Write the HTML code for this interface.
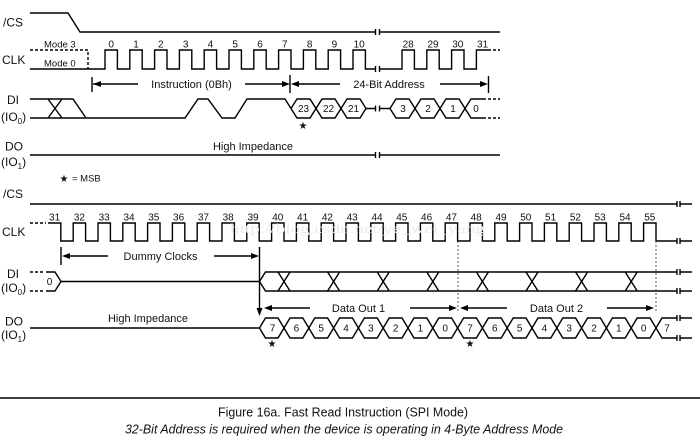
<!DOCTYPE html>
<html>
<head>
<meta charset="utf-8">
<style>
  html,body{margin:0;padding:0;background:#fff;}
  body{width:700px;height:440px;overflow:hidden;}
  svg{display:block;}
  text{font-family:"Liberation Sans",Arial,sans-serif;fill:#111;}
</style>
</head>
<body>
<svg width="700" height="440" viewBox="0 0 700 440" xmlns="http://www.w3.org/2000/svg">
  <g fill="none" stroke="#000" stroke-width="1.4" stroke-linejoin="miter">
    <!-- ===== TOP SECTION ===== -->
    <path d="M30,13 H68 L80,32 H375.5 M379.5,32 H500"/>
    <path d="M375.5,29 V35 M379.5,29 V35"/>
    <path d="M30,50 H88 V69" stroke-dasharray="3,2"/>
    <path d="M30,69 H105 V50 H117.4 V69 H129.8 V50 H142.2 V69 H154.6 V50 H167 V69 H179.4 V50 H191.8 V69 H204.2 V50 H216.6 V69 H229 V50 H241.4 V69 H253.8 V50 H266.2 V69 H278.6 V50 H291 V69 H303.4 V50 H315.8 V69 H328.2 V50 H340.6 V69 H353 V50 H365.4 V69 H375.5"/>
    <path d="M375.5,66 V72 M379.5,66 V72"/>
    <path d="M379.5,69 H402 V50 H414.4 V69 H426.8 V50 H439.2 V69 H451.6 V50 H464 V69 H476.4 V50 H488"/>
    <path d="M488,50 H500" stroke-dasharray="3,2"/>
    <path d="M92,77 V92 M93,84 H138 M245,84 H284 M290,75 V93 M297,84 H340 M440,84 H482 M488.5,76 V93"/>
    <path d="M30,99 H73 L86,118"/>
    <path d="M30,118 H185 L198,99 H208 L222,118 H235 L247,99 H285 L291,108.5"/>
    <path d="M48,99 L62,118 M48,118 L62,99"/>
    <path d="M291,108.5 L297,99 H310 L322,118 H335 L347,99 H360 L366,108.5"/>
    <path d="M291,108.5 L297,118 H310 L322,99 H335 L347,118 H360 L366,108.5"/>
    <path d="M366,108.5 H375.5 M379.5,108.5 H390"/>
    <path d="M375.5,105.5 V111.5 M379.5,105.5 V111.5"/>
    <path d="M390,108.5 L396,99 H409 L421,118 H434 L446,99 H459 L471,118 H483"/>
    <path d="M390,108.5 L396,118 H409 L421,99 H434 L446,118 H459 L471,99 H483"/>
    <path d="M483,99 H500 M483,118 H500" stroke-dasharray="3,2"/>
    <path d="M30,155 H375.5 M379.5,155 H500"/>
    <path d="M375.5,152 V158 M379.5,152 V158"/>

    <!-- ===== BOTTOM SECTION ===== -->
    <path d="M30,204 H677 M680,204 H692"/>
    <path d="M677,201 V207 M680,201 V207"/>
    <path d="M30,223 H46" stroke-dasharray="3,2"/>
    <path d="M48,223 H60.8 V241 H73.2 V223 H85.6 V241 H98 V223 H110.4 V241 H122.8 V223 H135.2 V241 H147.6 V223 H160 V241 H172.4 V223 H184.8 V241 H197.2 V223 H209.6 V241 H222 V223 H234.4 V241 H246.8 V223 H259.2 V241 H271.6 V223 H284 V241 H296.4 V223 H308.8 V241 H321.2 V223 H333.6 V241 H346 V223 H358.4 V241 H370.8 V223 H383.2 V241 H395.6 V223 H408 V241 H420.4 V223 H432.8 V241 H445.2 V223 H457.6 V241 H470 V223 H482.4 V241 H494.8 V223 H507.2 V241 H519.6 V223 H532 V241 H544.4 V223 H556.8 V241 H569.2 V223 H581.6 V241 H594 V223 H606.4 V241 H618.8 V223 H631.2 V241 H643.6 V223 H656 V241 H677"/>
    <path d="M677,238 V244 M680,238 V244 M680,241 H692"/>
    <path d="M61,247 V265 M69,256 H108 M214,256 H252"/>
    <path d="M259.5,247 V309"/>
    <path d="M30,272 H45 M30,291 H45" stroke-dasharray="3,2"/>
    <path d="M46,272 H55 L61,281.5 L55,291 H46"/>
    <path d="M61,281.5 H259.5 L265.5,272 H677 M259.5,281.5 L265.5,291 H677"/>
    <path d="M677,269 V275 M680,269 V275 M677,288 V294 M680,288 V294 M680,272 H692 M680,291 H692"/>
    <path d="M278,272 L290,291 M278,291 L290,272
             M327.6,272 L339.6,291 M327.6,291 L339.6,272
             M377.2,272 L389.2,291 M377.2,291 L389.2,272
             M426.8,272 L438.8,291 M426.8,291 L438.8,272
             M476.4,272 L488.4,291 M476.4,291 L488.4,272
             M526,272 L538,291 M526,291 L538,272
             M575.6,272 L587.6,291 M575.6,291 L587.6,272
             M625.2,272 L637.2,291 M625.2,291 L637.2,272"/>
    <path d="M271,308 H310 M410,308 H450 M467,308 H507 M607,308 H647"/>
    <path d="M30,328 H259.5"/>
    <path d="M259.5,328 L265.5,318 H278 L290,338 H302.8 L314.8,318 H327.6 L339.6,338 H352.4 L364.4,318 H377.2 L389.2,338 H402 L414,318 H426.8 L438.8,338 H451.6 L463.6,318 H476.4 L488.4,338 H501.2 L513.2,318 H526 L538,338 H550.8 L562.8,318 H575.6 L587.6,338 H600.4 L612.4,318 H625.2 L637.2,338 H650 L662,318 H677"/>
    <path d="M259.5,328 L265.5,338 H278 L290,318 H302.8 L314.8,338 H327.6 L339.6,318 H352.4 L364.4,338 H377.2 L389.2,318 H402 L414,338 H426.8 L438.8,318 H451.6 L463.6,338 H476.4 L488.4,318 H501.2 L513.2,338 H526 L538,318 H550.8 L562.8,338 H575.6 L587.6,318 H600.4 L612.4,338 H625.2 L637.2,318 H650 L662,338 H677"/>
    <path d="M677,315 V321 M680,315 V321 M677,335 V341 M680,335 V341 M680,318 H692 M680,338 H692"/>
  </g>

  <g fill="none" stroke="#555" stroke-width="1" stroke-dasharray="2,2">
    <path d="M458,241 V313 M656,241 V312"/>
  </g>

  <g fill="#000" stroke="none">
    <polygon points="93,84 101,81 101,87"/>
    <polygon points="290,84 282,81 282,87"/>
    <polygon points="291,84 299,81 299,87"/>
    <polygon points="488,84 480,81 480,87"/>
    <polygon points="62,256 70,253 70,259"/>
    <polygon points="259,256 251,253 251,259"/>
    <polygon points="256.5,308 262.5,308 259.5,316"/>
    <polygon points="264,308 272,305 272,311"/>
    <polygon points="457,308 449,305 449,311"/>
    <polygon points="460,308 468,305 468,311"/>
    <polygon points="654,308 646,305 646,311"/>
  </g>

  <line x1="0" y1="398" x2="700" y2="398" stroke="#000" stroke-width="1.6"/>

  <text x="230" y="233" font-size="14" style="font-family:'Liberation Serif',serif;fill:#ececec" textLength="255" lengthAdjust="spacingAndGlyphs">http://blog.csdn.net/ye_wei_yang</text>

  <g font-size="12">
    <text x="3" y="26.5">/CS</text>
    <text x="2" y="64">CLK</text>
    <text x="7" y="104">DI</text>
    <text x="1" y="121">(IO<tspan font-size="8" dy="3">0</tspan><tspan dy="-3">)</tspan></text>
    <text x="5" y="150.5">DO</text>
    <text x="1" y="166">(IO<tspan font-size="8" dy="3">1</tspan><tspan dy="-3">)</tspan></text>

    <text x="3" y="198">/CS</text>
    <text x="2" y="236">CLK</text>
    <text x="7" y="278">DI</text>
    <text x="1" y="292">(IO<tspan font-size="8" dy="3">0</tspan><tspan dy="-3">)</tspan></text>
    <text x="5" y="325.5">DO</text>
    <text x="1" y="339">(IO<tspan font-size="8" dy="3">1</tspan><tspan dy="-3">)</tspan></text>
  </g>

  <g font-size="9.5">
    <text x="44" y="47.5">Mode 3</text>
    <text x="44" y="66.5">Mode 0</text>
  </g>

  <g font-size="10" text-anchor="middle">
    <text x="111.2" y="47.5">0</text>
    <text x="136" y="47.5">1</text>
    <text x="160.8" y="47.5">2</text>
    <text x="185.6" y="47.5">3</text>
    <text x="210.4" y="47.5">4</text>
    <text x="235.2" y="47.5">5</text>
    <text x="260" y="47.5">6</text>
    <text x="284.8" y="47.5">7</text>
    <text x="309.6" y="47.5">8</text>
    <text x="334.4" y="47.5">9</text>
    <text x="359.2" y="47.5">10</text>
    <text x="408.2" y="47.5">28</text>
    <text x="433" y="47.5">29</text>
    <text x="457.8" y="47.5">30</text>
    <text x="482.6" y="47.5">31</text>
  </g>

  <g font-size="10" text-anchor="middle">
    <text x="303.5" y="112">23</text>
    <text x="328.5" y="112">22</text>
    <text x="353.5" y="112">21</text>
    <text x="403" y="112">3</text>
    <text x="428" y="112">2</text>
    <text x="453" y="112">1</text>
    <text x="476" y="112">0</text>
  </g>

  <g font-size="11" text-anchor="middle">
    <text x="191.5" y="88">Instruction (0Bh)</text>
    <text x="389" y="88">24-Bit Address</text>
    <text x="253" y="150">High Impedance</text>
    <text x="160.5" y="260">Dummy Clocks</text>
    <text x="148" y="322">High Impedance</text>
    <text x="358.5" y="312">Data Out 1</text>
    <text x="556.5" y="312">Data Out 2</text>
  </g>

  <g font-size="10" text-anchor="middle">
    <text x="303" y="129" style="font-family:'DejaVu Sans',sans-serif">★</text>
    <text x="64" y="182" style="font-family:'DejaVu Sans',sans-serif">★</text>
    <text x="272" y="347" style="font-family:'DejaVu Sans',sans-serif">★</text>
    <text x="470" y="347" style="font-family:'DejaVu Sans',sans-serif">★</text>
  </g>
  <text x="72" y="181.5" font-size="9.5">= MSB</text>

  <g font-size="10" text-anchor="middle">
    <text x="54.6" y="220.5">31</text>
    <text x="79.4" y="220.5">32</text>
    <text x="104.2" y="220.5">33</text>
    <text x="129" y="220.5">34</text>
    <text x="153.8" y="220.5">35</text>
    <text x="178.6" y="220.5">36</text>
    <text x="203.4" y="220.5">37</text>
    <text x="228.2" y="220.5">38</text>
    <text x="253" y="220.5">39</text>
    <text x="277.8" y="220.5">40</text>
    <text x="302.6" y="220.5">41</text>
    <text x="327.4" y="220.5">42</text>
    <text x="352.2" y="220.5">43</text>
    <text x="377" y="220.5">44</text>
    <text x="401.8" y="220.5">45</text>
    <text x="426.6" y="220.5">46</text>
    <text x="451.4" y="220.5">47</text>
    <text x="476.2" y="220.5">48</text>
    <text x="501" y="220.5">49</text>
    <text x="525.8" y="220.5">50</text>
    <text x="550.6" y="220.5">51</text>
    <text x="575.4" y="220.5">52</text>
    <text x="600.2" y="220.5">53</text>
    <text x="625" y="220.5">54</text>
    <text x="649.8" y="220.5">55</text>
  </g>

  <g font-size="10" text-anchor="middle">
    <text x="49.5" y="285">0</text>
    <text x="272.5" y="331.5">7</text>
    <text x="296.4" y="331.5">6</text>
    <text x="321.2" y="331.5">5</text>
    <text x="346" y="331.5">4</text>
    <text x="370.8" y="331.5">3</text>
    <text x="395.6" y="331.5">2</text>
    <text x="420.4" y="331.5">1</text>
    <text x="445.2" y="331.5">0</text>
    <text x="470" y="331.5">7</text>
    <text x="494.8" y="331.5">6</text>
    <text x="519.6" y="331.5">5</text>
    <text x="544.4" y="331.5">4</text>
    <text x="569.2" y="331.5">3</text>
    <text x="594" y="331.5">2</text>
    <text x="618.8" y="331.5">1</text>
    <text x="643.6" y="331.5">0</text>
    <text x="667" y="331.5">7</text>
  </g>

  <text x="218" y="416.5" font-size="12.5" textLength="250" lengthAdjust="spacingAndGlyphs">Figure 16a. Fast Read Instruction (SPI Mode)</text>
  <text x="125" y="433.5" font-size="12.5" font-style="italic" textLength="438" lengthAdjust="spacingAndGlyphs">32-Bit Address is required when the device is operating in 4-Byte Address Mode</text>
</svg>
</body>
</html>
